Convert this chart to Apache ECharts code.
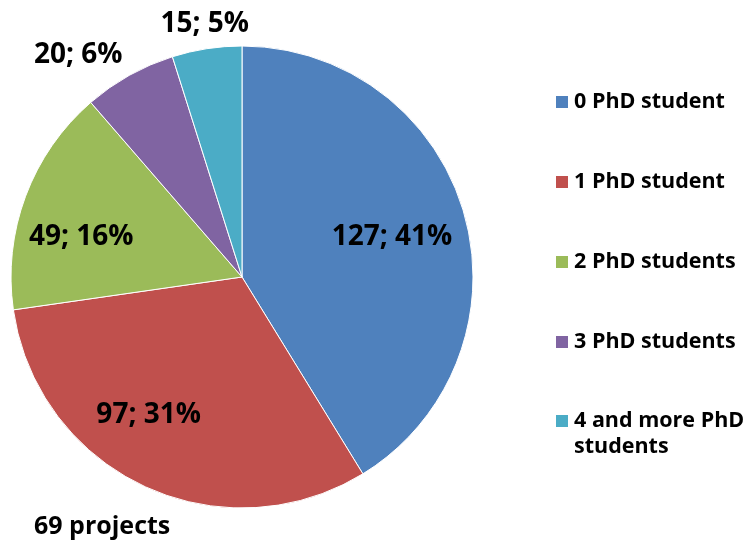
<!DOCTYPE html>
<html>
<head>
<meta charset="utf-8">
<script src="https://cdn.jsdelivr.net/npm/echarts@6/dist/echarts.min.js"></script>
<style>
  html, body { margin: 0; padding: 0; background: #fff; }
  #chart { width: 752px; height: 542px; }
</style>
</head>
<body>
<div id="chart"></div>
<script>
// Projects grouped by number of PhD students involved
const categories = ['0 PhD student', '1 PhD student', '2 PhD students', '3 PhD students', '4 and more PhD students'];
const projectCounts = [127, 97, 49, 20, 15];
const percentLabels = [41, 31, 16, 6, 5];
const colors = ['#4F81BD', '#C0504D', '#9BBB59', '#8064A2', '#4BACC6'];
const footnote = '69 projects';

const FONT = '"Open Sans", Lato, sans-serif';
const CENTER = [242, 277];
const R = 231;

const sliceData = categories.map((name, i) => ({
  name: name,
  value: projectCounts[i],
  itemStyle: { color: colors[i] }
}));

// Label-carrying overlay: inside labels for the large slices, outside ones for the small slices
const outsideLabelCfg = {
  3: { length: 23, dist: -4.5 },
  4: { length: 25, dist: -46 }
};
const labelNudge = {
  0: { dx: -5, dy: 4 },
  1: { dx: -25, dy: -8 },
  2: { dx: -10, dy: 16 }
};
const labelData = categories.map((name, i) => {
  const item = { name: name, value: projectCounts[i] };
  if (outsideLabelCfg[i]) {
    item.label = { position: 'outside', distanceToLabelLine: outsideLabelCfg[i].dist };
    item.labelLine = { show: false, length: outsideLabelCfg[i].length, length2: 0 };
  } else {
    item.label = { position: 'inside' };
  }
  return item;
});

const legendText = { fontFamily: FONT, fontWeight: 'bold', fontSize: 21.5, color: '#000', lineHeight: 26 };

const chart = echarts.init(document.getElementById('chart'), null, { renderer: 'canvas' });
chart.setOption({
  animation: false,
  color: colors,
  title: {
    text: footnote,
    left: 34,
    top: 514,
    padding: 0,
    textStyle: { fontFamily: FONT, fontWeight: 'bold', fontSize: 25, color: '#000' }
  },
  legend: [
    {
      orient: 'vertical',
      left: 554,
      top: 89,
      padding: 0,
      itemWidth: 14,
      itemHeight: 14,
      itemGap: 54,
      icon: 'rect',
      selectedMode: false,
      data: categories.slice(0, 4),
      textStyle: legendText
    },
    {
      orient: 'vertical',
      left: 554,
      top: 382,
      padding: 0,
      itemWidth: 14,
      itemHeight: 14,
      icon: 'rect',
      selectedMode: false,
      data: categories.slice(4),
      // leading blank line keeps the marker level with the first text line
      formatter: () => ' \n4 and more PhD\nstudents',
      textStyle: legendText
    }
  ],
  series: [
    {
      type: 'pie',
      center: CENTER,
      radius: [0, R],
      startAngle: 90,
      clockwise: true,
      silent: true,
      label: { show: false },
      labelLine: { show: false },
      itemStyle: { borderColor: '#fff', borderWidth: 1 },
      data: sliceData
    },
    {
      type: 'pie',
      center: CENTER,
      radius: [85, R],
      startAngle: 90,
      clockwise: true,
      silent: true,
      avoidLabelOverlap: false,
      legendHoverLink: false,
      itemStyle: { color: 'rgba(0,0,0,0)' },
      label: {
        show: true,
        fontFamily: FONT,
        fontWeight: 'bold',
        fontSize: 28,
        color: '#000',
        formatter: p => projectCounts[p.dataIndex] + '; ' + percentLabels[p.dataIndex] + '%'
      },
      labelLayout: p => labelNudge[p.dataIndex] || {},
      data: labelData
    }
  ]
});
</script>
</body>
</html>
